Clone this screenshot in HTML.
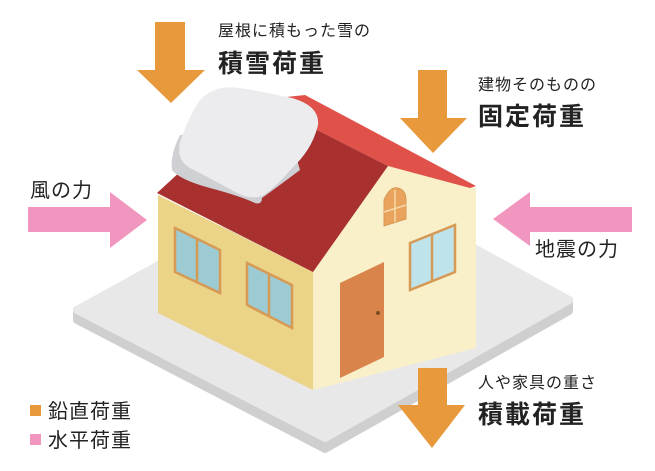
<!DOCTYPE html>
<html><head><meta charset="utf-8"><style>
body{margin:0;width:655px;height:471px;background:#fff;overflow:hidden;position:relative;font-family:"Liberation Sans","Noto Sans CJK JP",sans-serif;color:#222}
.t{position:absolute;white-space:nowrap;line-height:1}
.s{font-size:16px;letter-spacing:1px}
.b{font-size:25px;font-weight:bold;letter-spacing:2px}
.m{font-size:20px;letter-spacing:1px}
</style></head><body>
<svg width="655" height="471" style="position:absolute;left:0;top:0">
<!-- platform -->
<polygon points="77,320 325,449 569,311 569,300 325,438 77,310" fill="#cfcfd0" stroke="#cfcfd0" stroke-width="8" stroke-linejoin="round"/>
<polygon points="77,310 331,170 569,300 325,438" fill="#e8e8e9" stroke="#e8e8e9" stroke-width="8" stroke-linejoin="round"/>
<!-- walls -->
<polygon points="158,195 313,272 313,390 158,313" fill="#ebd388"/>
<polygon points="313,272 388,166 476,188 476,348 313,390" fill="#f9efc9"/>
<!-- roof -->
<polygon points="258,100 305,95 476,186 470,188 388,166" fill="#e0514a"/>
<polygon points="157,193 258,100 388,166 313,272" fill="#a8302e"/>
<!-- snow -->
<path d="M180,135 Q170,155 172,170 Q180,180 210,188 Q240,196 255,203 Q262,205 262,198 Q280,185 300,170 L290,135 Z" fill="#cfd0d4"/>
<path d="M200,100 Q215,84 240,88 Q265,92 292,98 Q320,106 318,125 Q312,150 292,168 Q275,188 262,196 Q250,200 235,192 Q210,178 190,168 Q176,160 180,142 Q188,118 200,100 Z" fill="#ececee"/>
<!-- left windows -->
<polygon points="175,228 220,250 220,293 175,272" fill="#9ccbd3" stroke="#d69a55" stroke-width="2.5"/>
<line x1="197" y1="239" x2="197" y2="283" stroke="#d69a55" stroke-width="2.5"/>
<polygon points="247,263 292,285 292,328 247,305" fill="#9ccbd3" stroke="#d69a55" stroke-width="2.5"/>
<line x1="269" y1="274" x2="269" y2="317" stroke="#d69a55" stroke-width="2.5"/>
<!-- right window -->
<polygon points="410,243 455,225 455,272 410,290" fill="#bfe3ea" stroke="#d69a55" stroke-width="2.5"/>
<line x1="432" y1="234" x2="432" y2="281" stroke="#d69a55" stroke-width="2.5"/>
<!-- round window -->
<path d="M384,226 L384,200 Q390,186 398,188 Q406,190 406,200 L406,219 Z" fill="#e9a35d" stroke="#d69a55" stroke-width="1"/>
<line x1="395" y1="190" x2="395" y2="222" stroke="#f5d9a8" stroke-width="1.5"/>
<line x1="384" y1="212" x2="406" y2="205" stroke="#f5d9a8" stroke-width="1.5"/>
<!-- door -->
<polygon points="340,283 384,262 384,357 340,378" fill="#d9844a"/>
<circle cx="378" cy="313" r="2" fill="#7a4a20"/>
<!-- orange arrows -->
<g fill="#e8993b">
<polygon points="155,22 185,22 185,70 205,70 171,103 137,70 155,70"/>
<polygon points="418,70 447,70 447,118 467,118 433,153 400,118 418,118"/>
<polygon points="418,368 447,368 447,405 465,405 432,448 398,405 418,405"/>
<rect x="30" y="405" width="11" height="11"/>
</g>
<g fill="#f196bf">
<polygon points="28,207 110,207 110,192 147,220 110,248 110,232 28,232"/>
<polygon points="632,207 530,207 530,192 493,219 530,246 530,232 632,232"/>
<rect x="30" y="434" width="11" height="11"/>
</g>
</svg>
<div class="t s" style="left:218px;top:24px">屋根に積もった雪の</div>
<div class="t b" style="left:218px;top:52px">積雪荷重</div>
<div class="t s" style="left:478px;top:78px">建物そのものの</div>
<div class="t b" style="left:478px;top:105px">固定荷重</div>
<div class="t m" style="left:30px;top:181px">風の力</div>
<div class="t m" style="left:535px;top:240px">地震の力</div>
<div class="t s" style="left:478px;top:376px">人や家具の重さ</div>
<div class="t b" style="left:478px;top:403px">積載荷重</div>
<div class="t m" style="left:48px;top:402px">鉛直荷重</div>
<div class="t m" style="left:48px;top:431px">水平荷重</div>
</body></html>
